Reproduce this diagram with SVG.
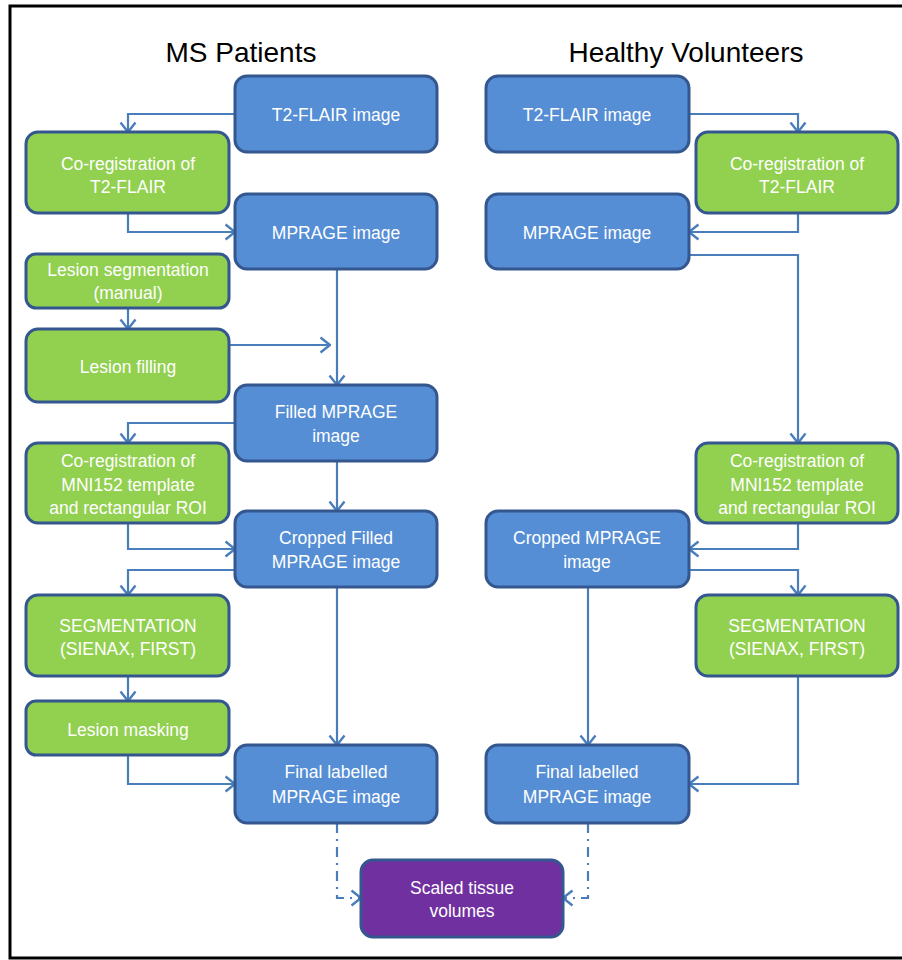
<svg xmlns="http://www.w3.org/2000/svg" width="902" height="960" viewBox="0 0 902 960">
<defs>
<marker id="arr" viewBox="0 0 12 18" refX="11" refY="9" markerWidth="12" markerHeight="18" markerUnits="userSpaceOnUse" orient="auto">
<path d="M1.5,1.5 L11,9 L1.5,16.5" fill="none" stroke="#4A7EBB" stroke-width="2.4"/>
</marker>
</defs>
<style>
.b{fill:#558ED5;stroke:#34578F;stroke-width:3}
.g{fill:#92D050;stroke:#34578F;stroke-width:3}
.p{fill:#7030A0;stroke:#34578F;stroke-width:3}
.t{font-family:"Liberation Sans",Arial,sans-serif;font-size:17.5px;fill:#fff;text-anchor:middle}
.h{font-family:"Liberation Sans",Arial,sans-serif;font-size:28px;fill:#000;text-anchor:middle}
.c{fill:none;stroke:#4A7EBB;stroke-width:2.2;marker-end:url(#arr)}
.d{stroke-dasharray:10 6 2 6}
</style>
<rect x="0" y="0" width="902" height="960" fill="#fff"/>
<rect x="10" y="6" width="900" height="952" fill="none" stroke="#000" stroke-width="3"/>
<text class="h" x="241" y="62">MS Patients</text>
<text class="h" x="686" y="62">Healthy Volunteers</text>

<g id="connectors">
<path class="c" d="M235,114 H128 V132"/>
<path class="c" d="M128,213 V232 H235"/>
<path class="c" d="M337,269 V385"/>
<path class="c" d="M128,308 V329"/>
<path class="c" d="M229,345 H330"/>
<path class="c" d="M235,423 H128 V443"/>
<path class="c" d="M337,461 V511"/>
<path class="c" d="M128,523 V549 H235"/>
<path class="c" d="M235,570 H128 V595"/>
<path class="c" d="M337,587 V745"/>
<path class="c" d="M128,676 V701"/>
<path class="c" d="M128,755 V784 H235"/>
<path class="c d" d="M337,823 V898 H361"/>
<path class="c" d="M689,114 H798 V132"/>
<path class="c" d="M798,213 V232 H689"/>
<path class="c" d="M689,255 H798 V443"/>
<path class="c" d="M798,523 V549 H689"/>
<path class="c" d="M689,570 H798 V595"/>
<path class="c" d="M588,587 V745"/>
<path class="c" d="M798,676 V784 H689"/>
<path class="c d" d="M588,823 V898 H563"/>
</g>

<g id="ms-t2flair"><rect class="b" x="235" y="76" width="202" height="76" rx="12"/><text class="t" x="336" y="121">T2-FLAIR image</text></g>
<g id="ms-coreg-t2"><rect class="g" x="26" y="132" width="203" height="81" rx="12"/><text class="t" x="128" y="170">Co-registration of</text><text class="t" x="128" y="193">T2-FLAIR</text></g>
<g id="ms-mprage"><rect class="b" x="235" y="194" width="202" height="75" rx="12"/><text class="t" x="336" y="239">MPRAGE image</text></g>
<g id="ms-lesion-seg"><rect class="g" x="26" y="254" width="203" height="54" rx="10"/><text class="t" x="128" y="276">Lesion segmentation</text><text class="t" x="128" y="299">(manual)</text></g>
<g id="ms-lesion-fill"><rect class="g" x="26" y="329" width="203" height="73" rx="12"/><text class="t" x="128" y="373">Lesion filling</text></g>
<g id="ms-filled"><rect class="b" x="235" y="385" width="202" height="76" rx="12"/><text class="t" x="336" y="418">Filled MPRAGE</text><text class="t" x="336" y="442">image</text></g>
<g id="ms-coreg-mni"><rect class="g" x="26" y="443" width="203" height="80" rx="12"/><text class="t" x="128" y="467">Co-registration of</text><text class="t" x="128" y="491">MNI152 template</text><text class="t" x="128" y="514">and rectangular ROI</text></g>
<g id="ms-cropped"><rect class="b" x="235" y="511" width="202" height="76" rx="12"/><text class="t" x="336" y="544">Cropped Filled</text><text class="t" x="336" y="568">MPRAGE image</text></g>
<g id="ms-seg"><rect class="g" x="26" y="595" width="203" height="81" rx="12"/><text class="t" x="128" y="632">SEGMENTATION</text><text class="t" x="128" y="655">(SIENAX, FIRST)</text></g>
<g id="ms-masking"><rect class="g" x="26" y="701" width="203" height="54" rx="10"/><text class="t" x="128" y="736">Lesion masking</text></g>
<g id="ms-final"><rect class="b" x="235" y="745" width="202" height="78" rx="12"/><text class="t" x="336" y="778">Final labelled</text><text class="t" x="336" y="803">MPRAGE image</text></g>

<g id="hv-t2flair"><rect class="b" x="486" y="76" width="203" height="76" rx="12"/><text class="t" x="587" y="121">T2-FLAIR image</text></g>
<g id="hv-coreg-t2"><rect class="g" x="696" y="132" width="202" height="81" rx="12"/><text class="t" x="797" y="170">Co-registration of</text><text class="t" x="797" y="193">T2-FLAIR</text></g>
<g id="hv-mprage"><rect class="b" x="486" y="194" width="203" height="75" rx="12"/><text class="t" x="587" y="239">MPRAGE image</text></g>
<g id="hv-coreg-mni"><rect class="g" x="696" y="443" width="202" height="80" rx="12"/><text class="t" x="797" y="467">Co-registration of</text><text class="t" x="797" y="491">MNI152 template</text><text class="t" x="797" y="514">and rectangular ROI</text></g>
<g id="hv-cropped"><rect class="b" x="486" y="511" width="203" height="76" rx="12"/><text class="t" x="587" y="544">Cropped MPRAGE</text><text class="t" x="587" y="568">image</text></g>
<g id="hv-seg"><rect class="g" x="696" y="595" width="202" height="81" rx="12"/><text class="t" x="797" y="632">SEGMENTATION</text><text class="t" x="797" y="655">(SIENAX, FIRST)</text></g>
<g id="hv-final"><rect class="b" x="486" y="745" width="203" height="78" rx="12"/><text class="t" x="587" y="778">Final labelled</text><text class="t" x="587" y="803">MPRAGE image</text></g>

<g id="scaled"><rect class="p" x="361" y="860" width="202" height="77" rx="12"/><text class="t" x="462" y="894">Scaled tissue</text><text class="t" x="462" y="917">volumes</text></g>
</svg>
